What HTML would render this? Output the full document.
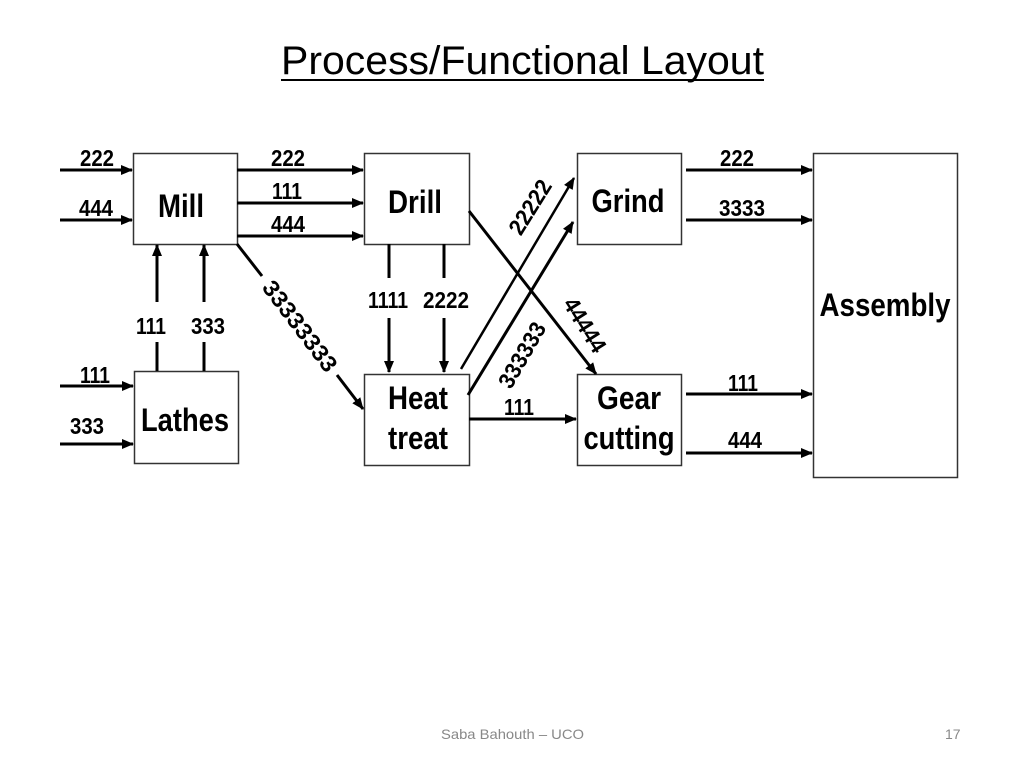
<!DOCTYPE html>
<html><head><meta charset="utf-8"><style>
html,body{margin:0;padding:0;background:#fff;}
svg{display:block;}
.l{font-family:"Liberation Sans",Arial,sans-serif;font-weight:bold;font-size:23px;fill:#000;}
.b{font-family:"Liberation Sans",Arial,sans-serif;font-weight:bold;font-size:32px;fill:#000;}
</style></head><body>
<svg width="1024" height="768" viewBox="0 0 1024 768" xmlns="http://www.w3.org/2000/svg">
<defs>
<marker id="a" markerWidth="12" markerHeight="10" refX="11" refY="5" orient="auto" markerUnits="userSpaceOnUse"><path d="M0,0 L12,5 L0,10 z" fill="#000"/></marker>
</defs>
<text x="281" y="74" font-family="Liberation Sans, sans-serif" font-size="40" textLength="483" lengthAdjust="spacingAndGlyphs">Process/Functional Layout</text>
<line x1="281" y1="80" x2="764" y2="80" stroke="#000" stroke-width="2"/>
<text x="441" y="739" font-family="Liberation Sans, sans-serif" font-size="14" fill="#888" textLength="143" lengthAdjust="spacingAndGlyphs">Saba Bahouth – UCO</text>
<text x="945" y="739" font-family="Liberation Sans, sans-serif" font-size="14" fill="#888">17</text>

<g fill="#fff" stroke="#333" stroke-width="1.5">
<rect x="133.5" y="153.5" width="104" height="91"/>
<rect x="134.5" y="371.5" width="104" height="92"/>
<rect x="364.5" y="153.5" width="105" height="91"/>
<rect x="364.5" y="374.5" width="105" height="91"/>
<rect x="577.5" y="153.5" width="104" height="91"/>
<rect x="577.5" y="374.5" width="104" height="91"/>
<rect x="813.5" y="153.5" width="144" height="324"/>
</g>
<g class="b" text-anchor="middle">
<text x="181" y="217" textLength="46" lengthAdjust="spacingAndGlyphs">Mill</text>
<text x="185" y="431" textLength="88" lengthAdjust="spacingAndGlyphs">Lathes</text>
<text x="415" y="213" textLength="54" lengthAdjust="spacingAndGlyphs">Drill</text>
<text x="418" y="409" textLength="60" lengthAdjust="spacingAndGlyphs">Heat</text>
<text x="418" y="449" textLength="60" lengthAdjust="spacingAndGlyphs">treat</text>
<text x="628" y="212" textLength="73" lengthAdjust="spacingAndGlyphs">Grind</text>
<text x="629" y="409" textLength="64" lengthAdjust="spacingAndGlyphs">Gear</text>
<text x="629" y="449" textLength="91" lengthAdjust="spacingAndGlyphs">cutting</text>
<text x="885" y="316" textLength="131" lengthAdjust="spacingAndGlyphs">Assembly</text>
</g>

<g stroke="#000" stroke-width="3" marker-end="url(#a)">
<line x1="60" y1="170" x2="132" y2="170"/>
<line x1="60" y1="220" x2="132" y2="220"/>
<line x1="60" y1="386" x2="133" y2="386"/>
<line x1="60" y1="444" x2="133" y2="444"/>
<line x1="237" y1="170" x2="363" y2="170"/>
<line x1="237" y1="203" x2="363" y2="203"/>
<line x1="237" y1="236" x2="363" y2="236"/>
<line x1="157" y1="302" x2="157" y2="245"/>
<line x1="204" y1="302" x2="204" y2="245"/>
<line x1="389" y1="318" x2="389" y2="372"/>
<line x1="444" y1="318" x2="444" y2="372"/>
<line x1="337" y1="375" x2="363" y2="409"/>
<line x1="469" y1="419" x2="576" y2="419"/>
<line x1="686" y1="170" x2="812" y2="170"/>
<line x1="686" y1="220" x2="812" y2="220"/>
<line x1="686" y1="394" x2="812" y2="394"/>
<line x1="686" y1="453" x2="812" y2="453"/>
<line x1="469" y1="211" x2="596" y2="374"/>
<line x1="468" y1="395" x2="573" y2="222"/>
</g>
<g stroke="#000" stroke-width="3">
<line x1="157" y1="342" x2="157" y2="371"/>
<line x1="204" y1="342" x2="204" y2="371"/>
<line x1="389" y1="244" x2="389" y2="278"/>
<line x1="444" y1="244" x2="444" y2="278"/>
<line x1="237" y1="244" x2="262" y2="276"/>
</g>
<line x1="461" y1="369" x2="574" y2="178" stroke="#000" stroke-width="2.5" marker-end="url(#a)"/>

<g class="l" text-anchor="middle">
<text x="97" y="166" textLength="34" lengthAdjust="spacingAndGlyphs">222</text>
<text x="96" y="216" textLength="34" lengthAdjust="spacingAndGlyphs">444</text>
<text x="95" y="383" textLength="30" lengthAdjust="spacingAndGlyphs">111</text>
<text x="87" y="434" textLength="34" lengthAdjust="spacingAndGlyphs">333</text>
<text x="288" y="166" textLength="34" lengthAdjust="spacingAndGlyphs">222</text>
<text x="287" y="199" textLength="30" lengthAdjust="spacingAndGlyphs">111</text>
<text x="288" y="232" textLength="34" lengthAdjust="spacingAndGlyphs">444</text>
<text x="151" y="334" textLength="30" lengthAdjust="spacingAndGlyphs">111</text>
<text x="208" y="334" textLength="34" lengthAdjust="spacingAndGlyphs">333</text>
<text x="388" y="308" textLength="40" lengthAdjust="spacingAndGlyphs">1111</text>
<text x="446" y="308" textLength="46" lengthAdjust="spacingAndGlyphs">2222</text>
<text x="519" y="415" textLength="30" lengthAdjust="spacingAndGlyphs">111</text>
<text x="737" y="166" textLength="34" lengthAdjust="spacingAndGlyphs">222</text>
<text x="742" y="216" textLength="46" lengthAdjust="spacingAndGlyphs">3333</text>
<text x="743" y="391" textLength="30" lengthAdjust="spacingAndGlyphs">111</text>
<text x="745" y="448" textLength="34" lengthAdjust="spacingAndGlyphs">444</text>
<text transform="translate(300,326) rotate(53)" y="8" textLength="108" lengthAdjust="spacingAndGlyphs">33333333</text>
<text transform="translate(530,207) rotate(-58)" y="8" textLength="60" lengthAdjust="spacingAndGlyphs">22222</text>
<text transform="translate(522,355) rotate(-60)" y="8" textLength="72" lengthAdjust="spacingAndGlyphs">333333</text>
<text transform="translate(585,325) rotate(58)" y="8" textLength="60" lengthAdjust="spacingAndGlyphs">44444</text>
</g>
</svg>
</body></html>
